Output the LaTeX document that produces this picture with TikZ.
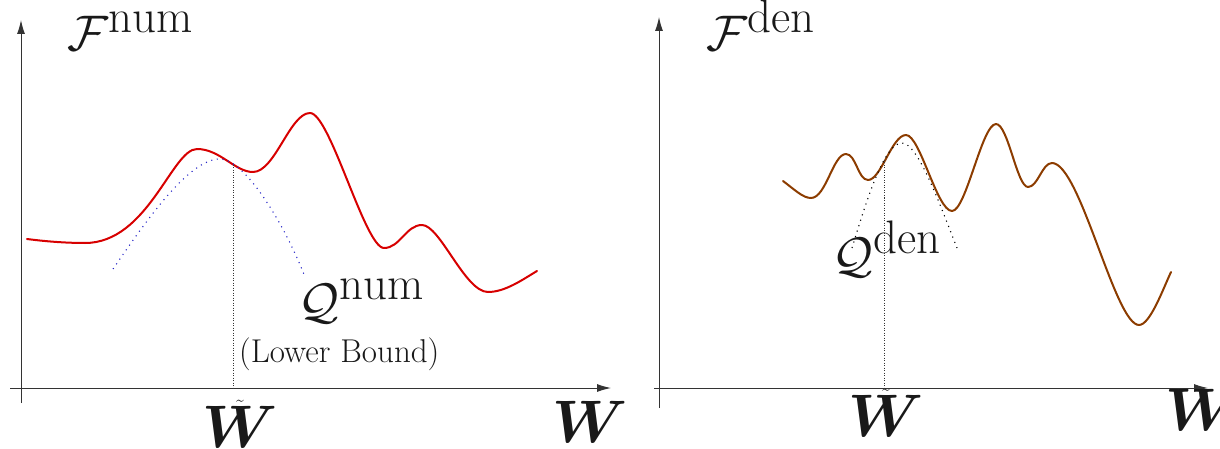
\documentclass[tikz,border=0pt]{standalone}
\usepackage{fontspec}
\usetikzlibrary{arrows.meta}
\DeclareFontShape{OMS}{cmsy}{m}{n}{<->cmsy10}{}
\DeclareFontShape{OML}{cmm}{m}{it}{<->cmmi10}{}
\DeclareFontShape{OML}{cmm}{b}{it}{<->cmmib10}{}
\DeclareFontShape{OMX}{cmex}{m}{n}{<->cmex10}{}
\DeclareMathAlphabet{\mathbit}{OML}{cmm}{b}{it}
\DeclareMathSizes{50}{50}{47}{30}
\definecolor{curvered}{RGB}{215,0,0}
\definecolor{curvebrown}{RGB}{140,60,0}
\definecolor{dotblue}{RGB}{40,40,200}
\begin{document}
\begin{tikzpicture}[x=1pt,y=-1pt,
  axis/.style={line width=1pt, draw=black!80, -{Latex[length=14pt,width=8pt]}},
  curveline/.style={line width=2pt, line cap=round, line join=round},
  guide/.style={line width=1.1pt, dash pattern=on 1.1pt off 4.6pt},
  vguide/.style={line width=1pt, dash pattern=on 1pt off 1.5pt, draw=black!80},
  mathlbl/.style={font=\fontsize{50}{60}\selectfont, inner sep=0pt, anchor=base west, text=black!90},
  wlbl/.style={font=\fontsize{60}{60}\selectfont, inner sep=0pt, anchor=base, text=black!90},
  ]
\useasboundingbox (0,0) rectangle (1220,449);

% ---------- left panel ----------
\coordinate (Lx0) at (10,388);
\coordinate (Lx1) at (611,388);
\coordinate (Ly0) at (21,403);
\coordinate (Ly1) at (21,20);
\draw[axis] (Lx0) -- (Lx1);
\draw[axis] (Ly0) -- (Ly1);

\draw[curveline, curvered] (27,239)
  .. controls (50,242) and (70,243) .. (85,243)
  .. controls (148,243) and (172,149) .. (197,149)
  .. controls (220,149) and (235,172) .. (253,172)
  .. controls (275,172) and (290,113) .. (310,113)
  .. controls (330,113) and (365,248) .. (384,248)
  .. controls (400,248) and (406,225) .. (422,225)
  .. controls (440,225) and (465,292) .. (488,292)
  .. controls (505,292) and (522,280) .. (537,271);

\draw[guide, dotblue] (113,269)
  .. controls (150,215) and (190,159) .. (220,159)
  .. controls (245,159) and (285,225) .. (305,277);

\coordinate (Lt) at (233,165);
\coordinate (Lb) at (233,388);
\draw[vguide] (Lt) -- (Lb);

\node[mathlbl] (Fnum) at (67,51) {$\mathcal{F}^{\mathrm{num}}$};
\node[mathlbl] (Qnum) at (298,318) {$\mathcal{Q}^{\mathrm{num}}$};
\node[font=\fontsize{33}{40}\selectfont, inner sep=0pt, anchor=base west, text=black!90] (lb) at (239,362) {(Lower Bound)};
\node[wlbl] (Wt1) at (240,447) {$\tilde{\mathbit{W}}$};
\node[wlbl] (W1) at (590,442) {$\mathbit{W}$};

% ---------- right panel ----------
\coordinate (Rx0) at (654,388);
\coordinate (Rx1) at (1208,388);
\coordinate (Ry0) at (659,408);
\coordinate (Ry1) at (659,17);
\draw[axis] (Rx0) -- (Rx1);
\draw[axis] (Ry0) -- (Ry1);

\draw[curveline, curvebrown] (783,181)
  .. controls (795,190) and (803,198) .. (811,198)
  .. controls (826,198) and (833,154) .. (846,154)
  .. controls (856,154) and (858,180) .. (868,180)
  .. controls (881,180) and (892,135) .. (906,135)
  .. controls (920,135) and (937,211) .. (952,211)
  .. controls (966,211) and (982,124) .. (996,124)
  .. controls (1008,124) and (1017,187) .. (1028,187)
  .. controls (1038,187) and (1042,163) .. (1052,163)
  .. controls (1080,163) and (1115,325) .. (1139,325)
  .. controls (1150,325) and (1163,289) .. (1171,272);

\draw[guide, black] (852,248)
  .. controls (868,195) and (885,143) .. (902,143)
  .. controls (918,143) and (940,205) .. (957,248);

\coordinate (Rt) at (884,160);
\coordinate (Rb) at (884,388);
\draw[vguide] (Rt) -- (Rb);

\node[mathlbl] (Fden) at (706,51) {$\mathcal{F}^{\mathrm{den}}$};
\node[mathlbl] (Qden) at (832,272) {$\mathcal{Q}^{\mathrm{den}}$};
\node[wlbl] (Wt2) at (886,436) {$\tilde{\mathbit{W}}$};
\node[wlbl] (W2) at (1203,430) {$\mathbit{W}$};
\end{tikzpicture}
\end{document}
